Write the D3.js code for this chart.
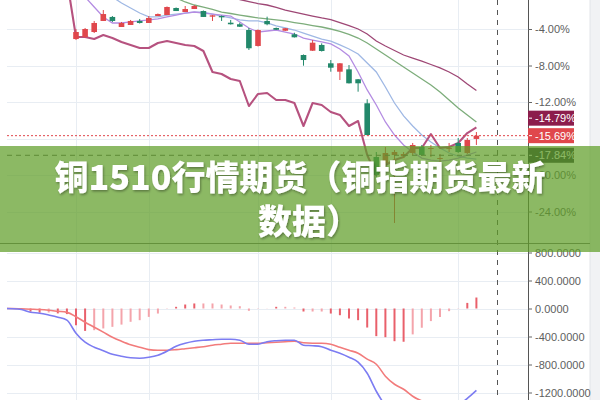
<!DOCTYPE html>
<html><head><meta charset="utf-8">
<script src="https://cdn.jsdelivr.net/npm/d3@7"></script>
<style>html,body{margin:0;padding:0;background:#fff}svg{display:block}</style>
</head><body>
<svg id="chart" width="600" height="400"></svg>
<script>
// ---------- DATA (percent change, index 0..44 for candles) ----------
const candleOpen  = [-5.10,-4.88,-4.33,-3.12,-2.68,-3.78,-3.56,-3.12,-3.34,-2.58,-2.47,-1.70,-2.14,-1.81,-2.03,-2.65,-2.58,-3.31,-3.48,-4.11,-5.86,-3.12,-3.89,-4.19,-4.58,-6.85,-6.38,-5.75,-7.76,-8.68,-8.42,-9.51,-12.14,-18.03,-18.68,-17.81,-17.92,-17.59,-16.93,-17.10,-18.19,-17.10,-16.49,-17.59,-16.05];
const candleClose = [-4.33,-4.00,-3.34,-2.36,-3.12,-3.34,-3.12,-3.34,-2.79,-2.36,-1.59,-2.03,-1.81,-1.48,-2.68,-2.50,-2.72,-3.48,-3.75,-6.11,-4.11,-3.48,-4.08,-3.92,-4.91,-7.40,-5.50,-6.41,-8.24,-7.76,-9.95,-9.95,-15.62,-19.99,-17.59,-17.48,-17.70,-16.71,-17.81,-17.04,-18.14,-17.04,-17.48,-16.16,-15.69];
const candleHigh  = [-4.00,-3.89,-3.12,-1.92,-2.58,-3.23,-3.01,-2.90,-2.58,-2.30,-1.53,-1.64,-1.48,-1.37,-1.97,-2.47,-2.52,-3.01,-3.31,-3.89,-4.05,-2.65,-3.84,-3.89,-4.41,-6.79,-5.21,-5.57,-7.40,-7.73,-7.95,-9.48,-11.70,-17.48,-16.93,-17.26,-17.48,-16.49,-16.71,-16.71,-17.70,-16.49,-15.95,-15.95,-15.29];
const candleLow   = [-5.21,-4.99,-4.44,-3.12,-3.23,-3.78,-3.56,-3.40,-3.34,-2.58,-2.47,-2.03,-2.14,-1.81,-2.68,-3.12,-3.12,-3.51,-3.78,-6.30,-5.92,-3.59,-4.11,-4.22,-4.93,-8.02,-6.41,-6.47,-8.68,-9.59,-9.97,-10.87,-15.67,-20.33,-19.12,-25.26,-18.14,-17.81,-17.92,-18.03,-18.68,-17.48,-17.59,-17.70,-16.71];
const candleStart = 0;

// comparison line (thick) and moving averages, each with its first index
const compareLine = [1.40,-4.88,-4.88,-5.10,-4.66,-4.99,-5.42,-5.75,-6.08,-6.08,-5.53,-5.32,-5.53,-5.75,-5.86,-6.41,-8.71,-8.93,-9.48,-9.70,-12.44,-11.12,-11.01,-11.78,-11.78,-12.11,-14.63,-12.11,-12.33,-13.10,-13.42,-14.63,-14.08,-17.81,-20.00,-18.90,-18.36,-18.03,-17.04,-17.04,-15.51,-17.04,-16.93,-16.49,-15.40,-14.79];
const compareStart = -1;
const maLong = [-0.27,-0.49,-0.77,-0.99,-1.21,-1.37,-1.64,-1.92,-2.14,-2.36,-2.58,-2.79,-2.96,-3.29,-3.62,-4.00,-4.55,-5.32,-5.86,-6.36,-6.85,-7.18,-7.51,-7.89,-8.27,-8.71,-9.26,-10.03,-10.74];
const maLongStart = 16;
const maMid = [-0.60,-1.04,-1.37,-1.59,-1.86,-2.14,-2.30,-2.47,-2.63,-2.79,-2.90,-3.01,-3.12,-3.29,-3.45,-3.62,-3.78,-4.00,-4.27,-4.60,-4.99,-5.53,-6.19,-6.85,-7.51,-8.16,-8.82,-9.48,-10.14,-10.90,-11.78,-12.66,-13.42,-14.19];
const maMidStart = 11;
const maShort = [-0.49,-1.15,-1.70,-2.25,-2.68,-2.68,-2.47,-2.36,-2.25,-2.14,-2.14,-2.36,-2.58,-2.79,-3.01,-3.12,-3.12,-3.34,-3.67,-3.89,-4.11,-4.44,-4.77,-5.10,-5.32,-5.75,-6.19,-6.74,-7.73,-8.71,-10.36,-12.11,-13.53,-14.63,-15.62,-16.38,-17.04,-17.59,-17.92,-18.14,-18.25];
const maShortStart = 4;
const maFast = [0.30,-0.49,-1.59,-2.68,-3.34,-3.34,-3.23,-3.12,-3.01,-2.90,-2.68,-2.47,-2.25,-2.14,-2.25,-2.36,-2.47,-2.58,-3.23,-3.89,-4.33,-4.22,-4.11,-4.33,-4.55,-4.99,-5.21,-5.42,-5.64,-6.19,-6.96,-8.71,-10.68,-12.33,-14.19,-15.62,-16.71,-17.48,-18.14,-18.36,-18.47,-18.36,-18.14,-17.81,-17.48];
const maFastStart = 0;

// MACD (index -8..44)
const macdStart = -8;
const macdDif  = [0,-3,-14,-53,-67,-93,-124,-167,-353,-482,-553,-603,-653,-682,-703,-710,-696,-667,-610,-539,-496,-467,-453,-446,-439,-439,-453,-510,-510,-474,-460,-453,-453,-524,-532,-546,-596,-639,-696,-767,-925,-1182,-1390,-1550,-1640,-1625,-1595,-1545,-1505,-1445,-1385,-1285,-1170];
const macdDea  = [0,0,-5,-10,-15,-25,-40,-55,-117,-196,-267,-338,-410,-467,-517,-553,-588,-596,-596,-588,-574,-560,-546,-524,-510,-496,-496,-496,-496,-489,-482,-474,-467,-489,-496,-496,-510,-553,-596,-639,-724,-796,-967,-1082,-1153,-1253,-1320,-1355,-1385,-1400,-1390,-1360,-1325];
const macdHist = [0,-3,-9,-45,-60,-57,-70,-80,-240,-320,-310,-285,-262,-230,-190,-167,-120,-72,-5,24,57,72,72,72,57,43,33,-33,-3,2,24,24,14,-43,-43,-43,-72,-96,-143,-167,-272,-395,-410,-467,-475,-370,-275,-180,-120,-38,3,80,157];

// axes and labels
const priceTicks = [-4,-8,-12,-16,-20,-24];
const hiddenPriceTick = -16; // covered by the last-price label
const macdTicks = [800,400,0,-400,-800,-1200];
const timeGridIdx = [0,8,20,28,42];
const lastLabels = [
  {value:-14.79, bg:"#8C1D4C"},
  {value:-15.69, bg:"#E0474C"}
];
const crosshairValue = -17.84;
const titleLines = ["铜1510行情期货（铜指期货最新", "数据）"];

// ---------- DRAW ----------
const svg = d3.select("#chart");
const L = 7, R = 528, upTop = 0, upBot = 243, loTop = 243, loBot = 400;
const x = d3.scaleLinear().domain([0,44]).range([76,476.4]);
const yUp = d3.scaleLinear().domain([-4,-24]).range([29,211.5]);
const yLo = d3.scaleLinear().domain([0,-1200]).range([308.5,392.5]);

const defs = svg.append("defs");
defs.append("clipPath").attr("id","cUp").append("rect").attr("x",L).attr("y",upTop).attr("width",R-L).attr("height",upBot-upTop);
defs.append("clipPath").attr("id","cLo").append("rect").attr("x",L).attr("y",loTop).attr("width",R-L).attr("height",loBot-loTop);
const f = defs.append("filter").attr("id","ts").attr("x","-10%").attr("y","-20%").attr("width","120%").attr("height","140%");
f.append("feDropShadow").attr("dx",1).attr("dy",1.5).attr("stdDeviation",1.2).attr("flood-color","#000").attr("flood-opacity",0.35);

// right gray strip
svg.append("rect").attr("x",590).attr("y",0).attr("width",10).attr("height",400).attr("fill","#F1F2F4");
svg.append("line").attr("x1",590).attr("x2",590).attr("y1",0).attr("y2",400).attr("stroke","#E2E4E8");

// grids
const grid = svg.append("g").attr("stroke","#E8EDF3").attr("stroke-width",1);
grid.selectAll(".gu").data(priceTicks).join("line").attr("x1",L).attr("x2",R).attr("y1",d=>Math.round(yUp(d))+0.5).attr("y2",d=>Math.round(yUp(d))+0.5);
grid.selectAll(".gl").data(macdTicks).join("line").attr("x1",L).attr("x2",R).attr("y1",d=>Math.round(yLo(d))+0.5).attr("y2",d=>Math.round(yLo(d))+0.5);
grid.selectAll(".gv").data(timeGridIdx).join("line").attr("x1",d=>Math.round(x(d))+0.5).attr("x2",d=>Math.round(x(d))+0.5).attr("y1",0).attr("y2",400);

// upper pane
const up = svg.append("g").attr("clip-path","url(#cUp)");
function lineFrom(arr, start){
  return d3.line().x((d,i)=>x(i+start)).y(d=>yUp(d))(arr);
}
up.append("path").attr("d",lineFrom(maLong,maLongStart)).attr("fill","none").attr("stroke","#9E4775").attr("stroke-width",1.3);
up.append("path").attr("d",lineFrom(maMid,maMidStart)).attr("fill","none").attr("stroke","#7DAD7B").attr("stroke-width",1.3);
up.append("path").attr("d",lineFrom(maShort,maShortStart)).attr("fill","none").attr("stroke","#9FB8E4").attr("stroke-width",1.3);
up.append("path").attr("d",lineFrom(maFast,maFastStart)).attr("fill","none").attr("stroke","#B48CE2").attr("stroke-width",1.3);
up.append("path").attr("d",lineFrom(compareLine,compareStart)).attr("fill","none").attr("stroke","#B6527F").attr("stroke-width",2.1).attr("stroke-linejoin","round");

const candles = candleOpen.map((o,i)=>({i:i+candleStart,o,c:candleClose[i],h:candleHigh[i],l:candleLow[i]}));
const cg = up.selectAll(".cd").data(candles).join("g")
  .attr("fill",d=>d.c>=d.o?"#E0474C":"#22886A").attr("stroke",d=>d.c>=d.o?"#E0474C":"#22886A");
cg.append("line").attr("x1",d=>x(d.i)).attr("x2",d=>x(d.i)).attr("y1",d=>yUp(d.h)).attr("y2",d=>yUp(d.l)).attr("stroke-width",1);
cg.append("rect").attr("x",d=>x(d.i)-2.8).attr("width",5.6)
  .attr("y",d=>yUp(Math.max(d.o,d.c))).attr("height",d=>Math.max(1,Math.abs(yUp(d.o)-yUp(d.c)))).attr("stroke","none");

// last price dotted line & crosshair
svg.append("line").attr("x1",L).attr("x2",R).attr("y1",yUp(candleClose[candleClose.length-1])).attr("y2",yUp(candleClose[candleClose.length-1]))
  .attr("stroke","#E0474C").attr("stroke-dasharray","2,2");
svg.append("line").attr("x1",L).attr("x2",R).attr("y1",yUp(crosshairValue)).attr("y2",yUp(crosshairValue))
  .attr("stroke","#555").attr("stroke-dasharray","5,4");
svg.append("line").attr("x1",497.5).attr("x2",497.5).attr("y1",0).attr("y2",400)
  .attr("stroke","#555").attr("stroke-dasharray","5,5");

// lower pane (MACD)
const lo = svg.append("g").attr("clip-path","url(#cLo)");
lo.selectAll(".hb").data(macdHist).join("line")
  .attr("x1",(d,i)=>x(i+macdStart)).attr("x2",(d,i)=>x(i+macdStart))
  .attr("y1",yLo(0)).attr("y2",d=>yLo(d))
  .attr("stroke",(d,i)=> (i>0 && Math.abs(d)>Math.abs(macdHist[i-1])) ? "#E9606B" : "#F4A4AB")
  .attr("stroke-width",2);
const ml = d3.line().x((d,i)=>x(i+macdStart)).y(d=>yLo(d)).curve(d3.curveMonotoneX);
lo.append("path").attr("d",ml(macdDea)).attr("fill","none").attr("stroke","#F27B7B").attr("stroke-width",1.6);
lo.append("path").attr("d",ml(macdDif)).attr("fill","none").attr("stroke","#7C7CF2").attr("stroke-width",1.6);

// pane separator & axis line
svg.append("line").attr("x1",0).attr("x2",590).attr("y1",243.5).attr("y2",243.5).attr("stroke","#707070");
svg.append("line").attr("x1",R+0.5).attr("x2",R+0.5).attr("y1",0).attr("y2",400).attr("stroke","#555");

// axes
const axUp = d3.axisRight(yUp).tickValues(priceTicks).tickFormat(d=> d===hiddenPriceTick ? "" : d.toFixed(2)+"%").tickSize(4).tickPadding(3);
const gUp = svg.append("g").attr("transform",`translate(${R},0)`).call(axUp);
const axLo = d3.axisRight(yLo).tickValues(macdTicks).tickFormat(d=>d.toFixed(4)).tickSize(4).tickPadding(3);
const gLo = svg.append("g").attr("transform",`translate(${R},0)`).call(axLo);
[gUp,gLo].forEach(g=>{
  g.select(".domain").remove();
  g.selectAll("line").attr("stroke","#666");
  g.selectAll("text").attr("fill","#5E5E5E").style("font-family","'Liberation Sans',Arial,sans-serif").style("font-size","11px");
});

// last value labels
let pos = lastLabels.map(d=>({...d,y:yUp(d.value)}));
for(let k=pos.length-2;k>=0;k--){ if(pos[k+1].y-pos[k].y<17.5) pos[k].y=pos[k+1].y-17.5; }
pos.push({value:crosshairValue,bg:"#2A2F3A",y:yUp(crosshairValue)});
const lg = svg.selectAll(".lb").data(pos).join("g").attr("transform",d=>`translate(${R},${d.y})`);
lg.append("rect").attr("x",0).attr("y",-7.5).attr("width",46).attr("height",15).attr("fill",d=>d.bg);
lg.append("line").attr("x1",1).attr("x2",4).attr("y1",0).attr("y2",0).attr("stroke","#fff");
lg.append("text").attr("x",7).attr("y",0).attr("dy","0.35em").attr("fill","#fff")
  .style("font-family","'Liberation Sans',Arial,sans-serif").style("font-size","11px")
  .text(d=>d.value.toFixed(2)+"%");

// banner
svg.append("rect").attr("x",0).attr("y",146).attr("width",600).attr("height",106).attr("fill","rgb(95,158,40)").attr("fill-opacity",0.72);
svg.selectAll(".tt").data(titleLines).join("text")
  .attr("x",(d,i)=> i===0 ? 300 : 309).attr("y",(d,i)=>178+i*44).attr("dy","0.36em").attr("text-anchor","middle")
  .attr("fill","#fff").attr("filter","url(#ts)")
  .style("font-family","'Noto Sans CJK SC','Noto Sans',sans-serif").style("font-weight","900").style("font-size","34px")
  .text(d=>d);
</script>
</body></html>
